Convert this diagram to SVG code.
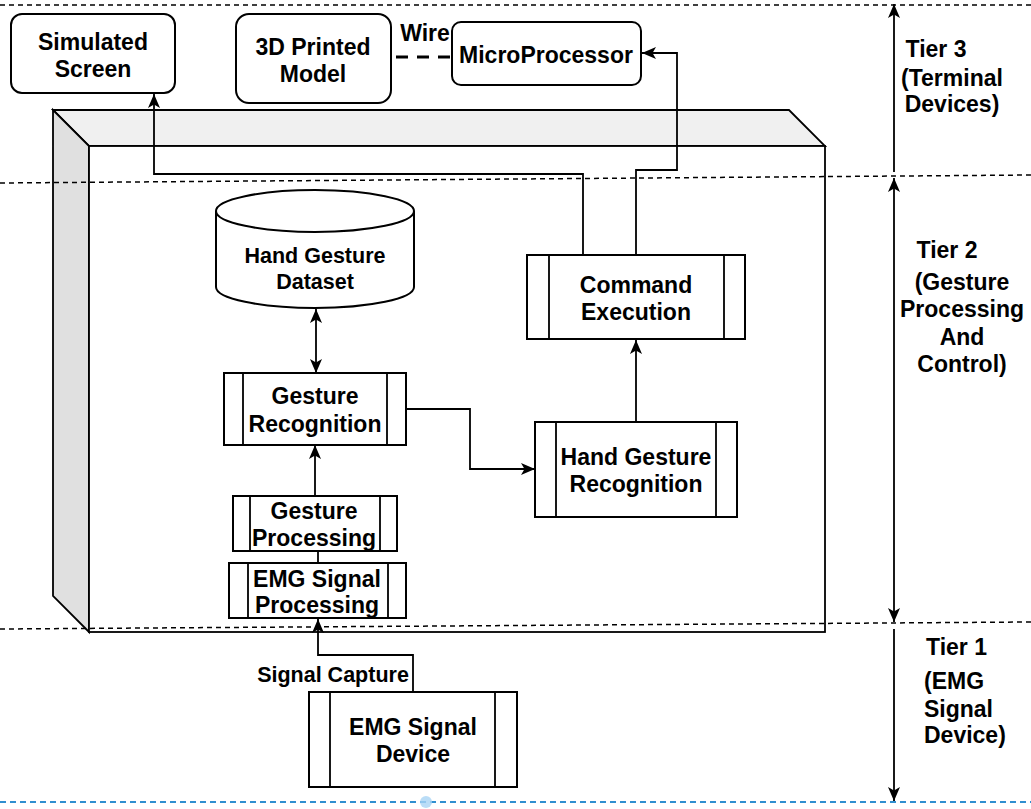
<svg xmlns="http://www.w3.org/2000/svg" width="1031" height="809" viewBox="0 0 1031 809">
<style>
.t{font-family:"Liberation Sans",Arial,sans-serif;font-weight:bold;font-size:23px;fill:#000;text-anchor:middle}
.s{font-size:21.5px}
.l{text-anchor:start}
.n{fill:#fff;stroke:#000;stroke-width:2}
.c{fill:none;stroke:#000;stroke-width:1.8}
.d{fill:none;stroke:#000;stroke-width:1.5;stroke-dasharray:5 4}
</style>
<defs>
<marker id="arr" viewBox="0 0 14 12" refX="14" refY="6" markerWidth="14" markerHeight="12" markerUnits="userSpaceOnUse" orient="auto-start-reverse">
<path d="M0,0 L14,6 L0,12 L3.5,6 Z" fill="#000"/>
</marker>
</defs>
<rect width="1031" height="809" fill="#fff"/>

<g id="container">
<polygon points="53,110 789,110 825,146 89,146" fill="#f0f0f0" stroke="#000" stroke-width="1.8"/>
<polygon points="53,110 89,146 89,632 53,596" fill="#e0e0e0" stroke="#000" stroke-width="1.8"/>
<rect x="89" y="146" width="736" height="486" fill="#fff" stroke="#000" stroke-width="1.8"/>
</g>

<g id="tier-lines">
<line class="d" x1="0" y1="5" x2="1031" y2="5"/>
<line class="d" x1="0" y1="183" x2="1031" y2="175"/>
<line class="d" x1="0" y1="629" x2="1031" y2="622"/>
<line x1="0" y1="802" x2="1031" y2="802" stroke="#2f8fd0" stroke-width="2" stroke-dasharray="6 4"/>
<circle cx="426" cy="802" r="6" fill="#a9d5f5" opacity="0.8"/>
</g>

<g id="connectors">
<path class="c" d="M583,255 V174 H154 V94" marker-end="url(#arr)"/>
<path class="c" d="M636,255 V170 H677 V53 H642" marker-end="url(#arr)"/>
<path class="c" d="M316,309 V373" marker-start="url(#arr)" marker-end="url(#arr)"/>
<path class="c" d="M315,496 V445" marker-end="url(#arr)"/>
<path class="c" d="M318,551 V563"/>
<path class="c" d="M406,409 H470 V469 H535" marker-end="url(#arr)"/>
<path class="c" d="M636,422 V340" marker-end="url(#arr)"/>
<path class="c" d="M413,692 V655 H318 V619" marker-end="url(#arr)"/>
<path d="M396,57 H452" fill="none" stroke="#000" stroke-width="3" stroke-dasharray="12 9"/>
<text class="t" x="425" y="41">Wire</text>
<text class="t s" x="333" y="682">Signal Capture</text>
<path class="c" d="M894,172 V4" marker-end="url(#arr)"/>
<path class="c" d="M894,178 V622" marker-start="url(#arr)" marker-end="url(#arr)"/>
<path class="c" d="M894,629 V801" marker-end="url(#arr)"/>
</g>

<g id="simulated-screen">
<rect class="n" x="11" y="14" width="164" height="79" rx="11"/>
<text class="t" x="93" y="50">Simulated</text>
<text class="t" x="93" y="77">Screen</text>
</g>

<g id="printed-model">
<rect class="n" x="236" y="14" width="155" height="89" rx="13"/>
<text class="t" x="313" y="55">3D Printed</text>
<text class="t" x="313" y="82">Model</text>
</g>

<g id="microprocessor">
<rect class="n" x="452" y="22" width="189" height="63" rx="9"/>
<text class="t" x="546" y="63">MicroProcessor</text>
</g>

<g id="dataset">
<path class="n" d="M216,211 A99,21 0 0 1 414,211 V287 A99,21 0 0 1 216,287 Z"/>
<path class="n" d="M216,211 A99,21 0 0 0 414,211" fill="none"/>
<text class="t s" x="315" y="263">Hand Gesture</text>
<text class="t s" x="315" y="289">Dataset</text>
</g>

<g id="command-execution">
<rect class="n" x="527" y="255" width="218" height="84"/>
<path class="c" d="M549,255 V339 M724,255 V339" stroke-width="2"/>
<text class="t" x="636" y="293">Command</text>
<text class="t" x="636" y="320">Execution</text>
</g>

<g id="gesture-recognition">
<rect class="n" x="224" y="373" width="182" height="72"/>
<path class="c" d="M243,373 V445 M387,373 V445" stroke-width="2"/>
<text class="t" x="315" y="404">Gesture</text>
<text class="t" x="315" y="432">Recognition</text>
</g>

<g id="hand-gesture-recognition">
<rect class="n" x="535" y="422" width="202" height="95"/>
<path class="c" d="M556,422 V517 M716,422 V517" stroke-width="2"/>
<text class="t" x="636" y="465">Hand Gesture</text>
<text class="t" x="636" y="492">Recognition</text>
</g>

<g id="gesture-processing">
<rect class="n" x="233" y="496" width="164" height="55"/>
<path class="c" d="M250,496 V551 M380,496 V551" stroke-width="2"/>
<text class="t" x="314" y="519">Gesture</text>
<text class="t" x="314" y="546">Processing</text>
</g>

<g id="emg-signal-processing">
<rect class="n" x="229" y="563" width="177" height="55"/>
<path class="c" d="M248,563 V618 M388,563 V618" stroke-width="2"/>
<text class="t" x="317" y="587">EMG Signal</text>
<text class="t" x="317" y="613">Processing</text>
</g>

<g id="emg-signal-device">
<rect class="n" x="309" y="692" width="208" height="95"/>
<path class="c" d="M330,692 V787 M495,692 V787" stroke-width="2"/>
<text class="t" x="413" y="735">EMG Signal</text>
<text class="t" x="413" y="762">Device</text>
</g>

<g id="tier-labels">
<text class="t" x="936" y="57">Tier 3</text>
<text class="t" x="952" y="86">(Terminal</text>
<text class="t" x="952" y="112">Devices)</text>
<text class="t" x="947" y="258">Tier 2</text>
<text class="t" x="962" y="290">(Gesture</text>
<text class="t" x="962" y="317">Processing</text>
<text class="t" x="962" y="345">And</text>
<text class="t" x="962" y="372">Control)</text>
<text class="t l" x="926" y="655">Tier 1</text>
<text class="t l" x="924" y="689">(EMG</text>
<text class="t l" x="924" y="717">Signal</text>
<text class="t l" x="924" y="743">Device)</text>
</g>
</svg>
